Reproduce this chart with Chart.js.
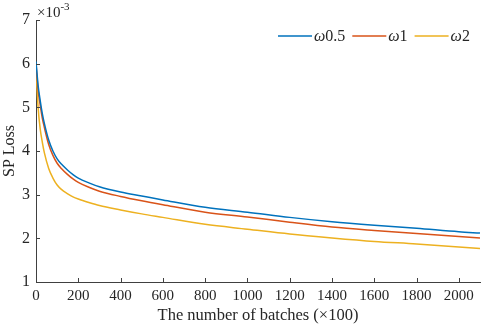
<!DOCTYPE html>
<html>
<head>
<meta charset="utf-8">
<script src="https://cdn.jsdelivr.net/npm/chart.js@4.4.1/dist/chart.umd.min.js"></script>
<style>
    html, body { margin: 0; padding: 0; background: #fff; }
    #wrap { width: 484px; height: 326px; position: relative; }
</style>
</head>
<body>
<div id="wrap"><canvas id="lossChart"></canvas></div>
<script>
// batches (x100) where values were read
const batches = [0, 10, 20, 30, 40, 60, 80, 100, 120, 150, 175, 200, 250, 300, 400, 500, 600, 800, 1000, 1200, 1400, 1600, 1800, 2000, 2100];
// SP loss in units of 1e-3
const lossW05 = [6.05, 5.5, 5.15, 4.85, 4.62, 4.25, 4.0, 3.82, 3.70, 3.56, 3.46, 3.38, 3.27, 3.18, 3.06, 2.97, 2.88, 2.71, 2.60, 2.48, 2.38, 2.30, 2.23, 2.15, 2.12];
const lossW1 = [6.0, 5.4, 5.05, 4.75, 4.53, 4.15, 3.9, 3.72, 3.60, 3.46, 3.36, 3.28, 3.17, 3.08, 2.96, 2.86, 2.77, 2.60, 2.49, 2.37, 2.26, 2.18, 2.11, 2.04, 2.01];
const lossW2 = [5.9, 5.0, 4.5, 4.2, 3.95, 3.6, 3.38, 3.22, 3.12, 3.02, 2.95, 2.90, 2.82, 2.75, 2.65, 2.56, 2.48, 2.32, 2.21, 2.10, 2.01, 1.93, 1.87, 1.80, 1.77];
const seriesNames = ['\u03c90.5', '\u03c91', '\u03c92'];
const seriesColors = ['#0072BD', '#D95319', '#EDB120'];
const xTicks = [0, 200, 400, 600, 800, 1000, 1200, 1400, 1600, 1800, 2000];
const yTicks = [1, 2, 3, 4, 5, 6, 7];

const serif = '"Liberation Serif", "DejaVu Serif", serif';
const textColor = '#262626';

function toPoints(ys) {
    return batches.map((x, i) => ({ x: x, y: ys[i] }));
}

// inward tick marks, legend inside the plot and the x10^-3 exponent label
const matlabBits = {
    id: 'matlabBits',
    afterDraw(chart) {
        const ctx = chart.ctx;
        const area = chart.chartArea;
        const xs = chart.scales.x, ys = chart.scales.y;
        ctx.save();
        ctx.strokeStyle = '#404040';
        ctx.lineWidth = 1;
        xTicks.forEach(v => {
            const px = Math.round(xs.getPixelForValue(v)) + 0.5;
            ctx.beginPath();
            ctx.moveTo(px, area.bottom);
            ctx.lineTo(px, area.bottom - 4);
            ctx.stroke();
        });
        yTicks.forEach(v => {
            const py = Math.round(ys.getPixelForValue(v)) + 0.5;
            ctx.beginPath();
            ctx.moveTo(area.left, py);
            ctx.lineTo(area.left + 4, py);
            ctx.stroke();
        });

        // exponent
        ctx.fillStyle = textColor;
        ctx.textBaseline = 'alphabetic';
        ctx.textAlign = 'left';
        ctx.font = '15px ' + serif;
        ctx.fillText('\u00d710', area.left + 1, area.top - 3);
        const w = ctx.measureText('\u00d710').width;
        ctx.font = '11px ' + serif;
        ctx.fillText('-3', area.left + 1 + w, area.top - 10);

        // legend
        const legendY = 36;
        let lx = 278;
        chart.data.datasets.forEach(ds => {
            ctx.strokeStyle = ds.borderColor;
            ctx.lineWidth = 1.5;
            ctx.beginPath();
            ctx.moveTo(lx, legendY);
            ctx.lineTo(lx + 34, legendY);
            ctx.stroke();
            ctx.font = 'italic 16px ' + serif;
            ctx.fillStyle = textColor;
            ctx.textBaseline = 'middle';
            ctx.fillText(ds.label.charAt(0), lx + 36, legendY + 1);
            const wOmega = ctx.measureText(ds.label.charAt(0)).width;
            ctx.font = '16px ' + serif;
            const rest = ds.label.slice(1);
            ctx.fillText(rest, lx + 36 + wOmega, legendY + 1);
            lx += 36 + wOmega + ctx.measureText(rest).width + 7;
        });
        ctx.restore();
    }
};

const ctx = document.getElementById('lossChart').getContext('2d');
const lossChart = new Chart(ctx, {
    type: 'line',
    data: {
        datasets: [lossW05, lossW1, lossW2].map((ys, i) => ({
            label: seriesNames[i],
            data: toPoints(ys),
            borderColor: seriesColors[i],
            backgroundColor: seriesColors[i],
            borderWidth: 1.5,
            pointRadius: 0,
            cubicInterpolationMode: 'monotone',
            fill: false
        }))
    },
    options: {
        responsive: true,
        maintainAspectRatio: false,
        animation: false,
        devicePixelRatio: 1,
        layout: { padding: { top: 20, right: 4, left: 0, bottom: 0 } },
        plugins: {
            legend: { display: false },
            tooltip: { enabled: false }
        },
        scales: {
            x: {
                type: 'linear',
                min: 0,
                max: 2100,
                grid: { display: false, tickLength: 0 },
                border: { display: true, color: '#404040', width: 1 },
                ticks: { color: textColor, font: { family: serif, size: 15 }, padding: 5, maxRotation: 0, callback: v => String(v) },
                afterBuildTicks: s => { s.ticks = xTicks.map(v => ({ value: v })); },
                afterFit: s => { s.height = 44; },
                title: { display: true, text: 'The number of batches (\u00d7100)', color: textColor, font: { family: serif, size: 16.5 }, padding: { top: 0, bottom: 0 } }
            },
            y: {
                min: 1,
                max: 7,
                grid: { display: false, tickLength: 0 },
                border: { display: true, color: '#404040', width: 1 },
                ticks: { color: textColor, font: { family: serif, size: 16 }, padding: 6, callback: v => String(v) },
                afterBuildTicks: s => { s.ticks = yTicks.map(v => ({ value: v })); },
                afterFit: s => { s.width = 36; },
                title: { display: true, text: 'SP Loss', color: textColor, font: { family: serif, size: 16 }, padding: 0 }
            }
        }
    },
    plugins: [matlabBits]
});
</script>
</body>
</html>
